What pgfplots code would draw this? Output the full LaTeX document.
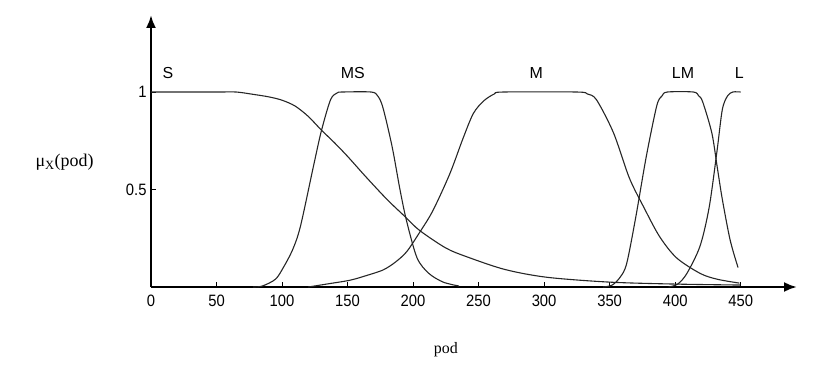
\documentclass[border=0pt]{standalone}
\usepackage{fontspec}
\setmainfont{Liberation Serif}
\newfontfamily\arial[FakeStretch=0.9]{Liberation Sans}
\newfontfamily\arialn{Liberation Sans}
\usepackage{pgfplots}
\pgfplotsset{compat=1.18}
\usetikzlibrary{arrows.meta}
\begin{document}
\begin{tikzpicture}
\begin{axis}[
  at={(0,0)}, anchor=south west,
  scale only axis, width=646bp, height=272bp,
  xmin=0, xmax=493, ymin=0, ymax=1.395,
  axis lines=left,
  axis line style={line width=2.4bp, -{Latex[length=13bp,width=10bp]}},
  xtick={0,50,...,450}, ytick={0.5,1},
  tick align=inside, major tick length=5bp,
  tick style={black, line width=0.8bp},
  /pgf/number format/assume math mode=true,
  tick label style={font=\arial\fontsize{16.5}{18}\selectfont},
  xticklabel style={yshift=-5bp},
  yticklabel style={xshift=-1bp},
  clip=false,
]
\addplot[black!85, line width=1.1bp, smooth, tension=0.5] coordinates {
(0,1) (50,1) (65,1) (78,0.988) (90,0.975) (100,0.958) (110,0.928) (120,0.875) (130,0.805) (140,0.74) (150,0.67) (164,0.565) (180,0.45) (194,0.36) (205,0.29) (225,0.20) (241,0.155) (270,0.09) (302,0.05) (350,0.025) (400,0.015) (450,0.01)};
\addplot[black!85, line width=1.1bp, smooth, tension=0.5] coordinates {
(78,0) (85,0.005) (95,0.04) (101,0.10) (108,0.19) (114,0.31) (124,0.62) (130,0.80) (137,0.96) (142,0.995) (146,1) (168,1) (173,0.98) (177,0.92) (184,0.72) (190,0.50) (195,0.34) (203,0.15) (212,0.07) (223,0.025) (235,0.005)};
\addplot[black!85, line width=1.1bp, smooth, tension=0.5] coordinates {
(120,0) (134,0.015) (152,0.035) (165,0.06) (177,0.087) (186,0.125) (195,0.18) (205,0.28) (215,0.39) (228,0.58) (238,0.76) (246,0.89) (254,0.955) (262,0.99) (269,1) (325,1) (333,0.99) (340,0.96) (353,0.79) (365,0.56) (376,0.41) (388,0.26) (401,0.15) (419,0.07) (432,0.04) (449,0.02)};
\addplot[black!85, line width=1.1bp, smooth, tension=0.5] coordinates {
(345,0) (352,0.01) (358,0.05) (363,0.12) (370,0.36) (378,0.67) (386,0.93) (390,0.98) (394,1) (414,1) (418,0.98) (421,0.95) (428,0.79) (432,0.62) (436,0.45) (442,0.24) (448,0.10)};
\addplot[black!85, line width=1.1bp, smooth, tension=0.5] coordinates {
(395,0) (402,0.015) (409,0.07) (419,0.21) (426,0.41) (432,0.70) (436,0.91) (440,0.98) (444,1) (450,1)};
\node[font=\arialn\fontsize{16}{18}\selectfont] at (axis cs:13,1.10) {S};
\node[font=\arialn\fontsize{16}{18}\selectfont] at (axis cs:154,1.10) {MS};
\node[font=\arialn\fontsize{16}{18}\selectfont] at (axis cs:294,1.10) {M};
\node[font=\arialn\fontsize{16}{18}\selectfont] at (axis cs:406,1.10) {LM};
\node[font=\arialn\fontsize{16}{18}\selectfont] at (axis cs:449,1.10) {L};
\node[font=\fontsize{18}{20}\selectfont] at (axis cs:-66,0.64) {μ\textsubscript{X}(pod)};
\node[font=\fontsize{16}{18}\selectfont] at (axis cs:225,-0.32) {pod};
\end{axis}
\path[use as bounding box] (-151bp,-91bp) rectangle (687bp,287bp);
\end{tikzpicture}
\end{document}
